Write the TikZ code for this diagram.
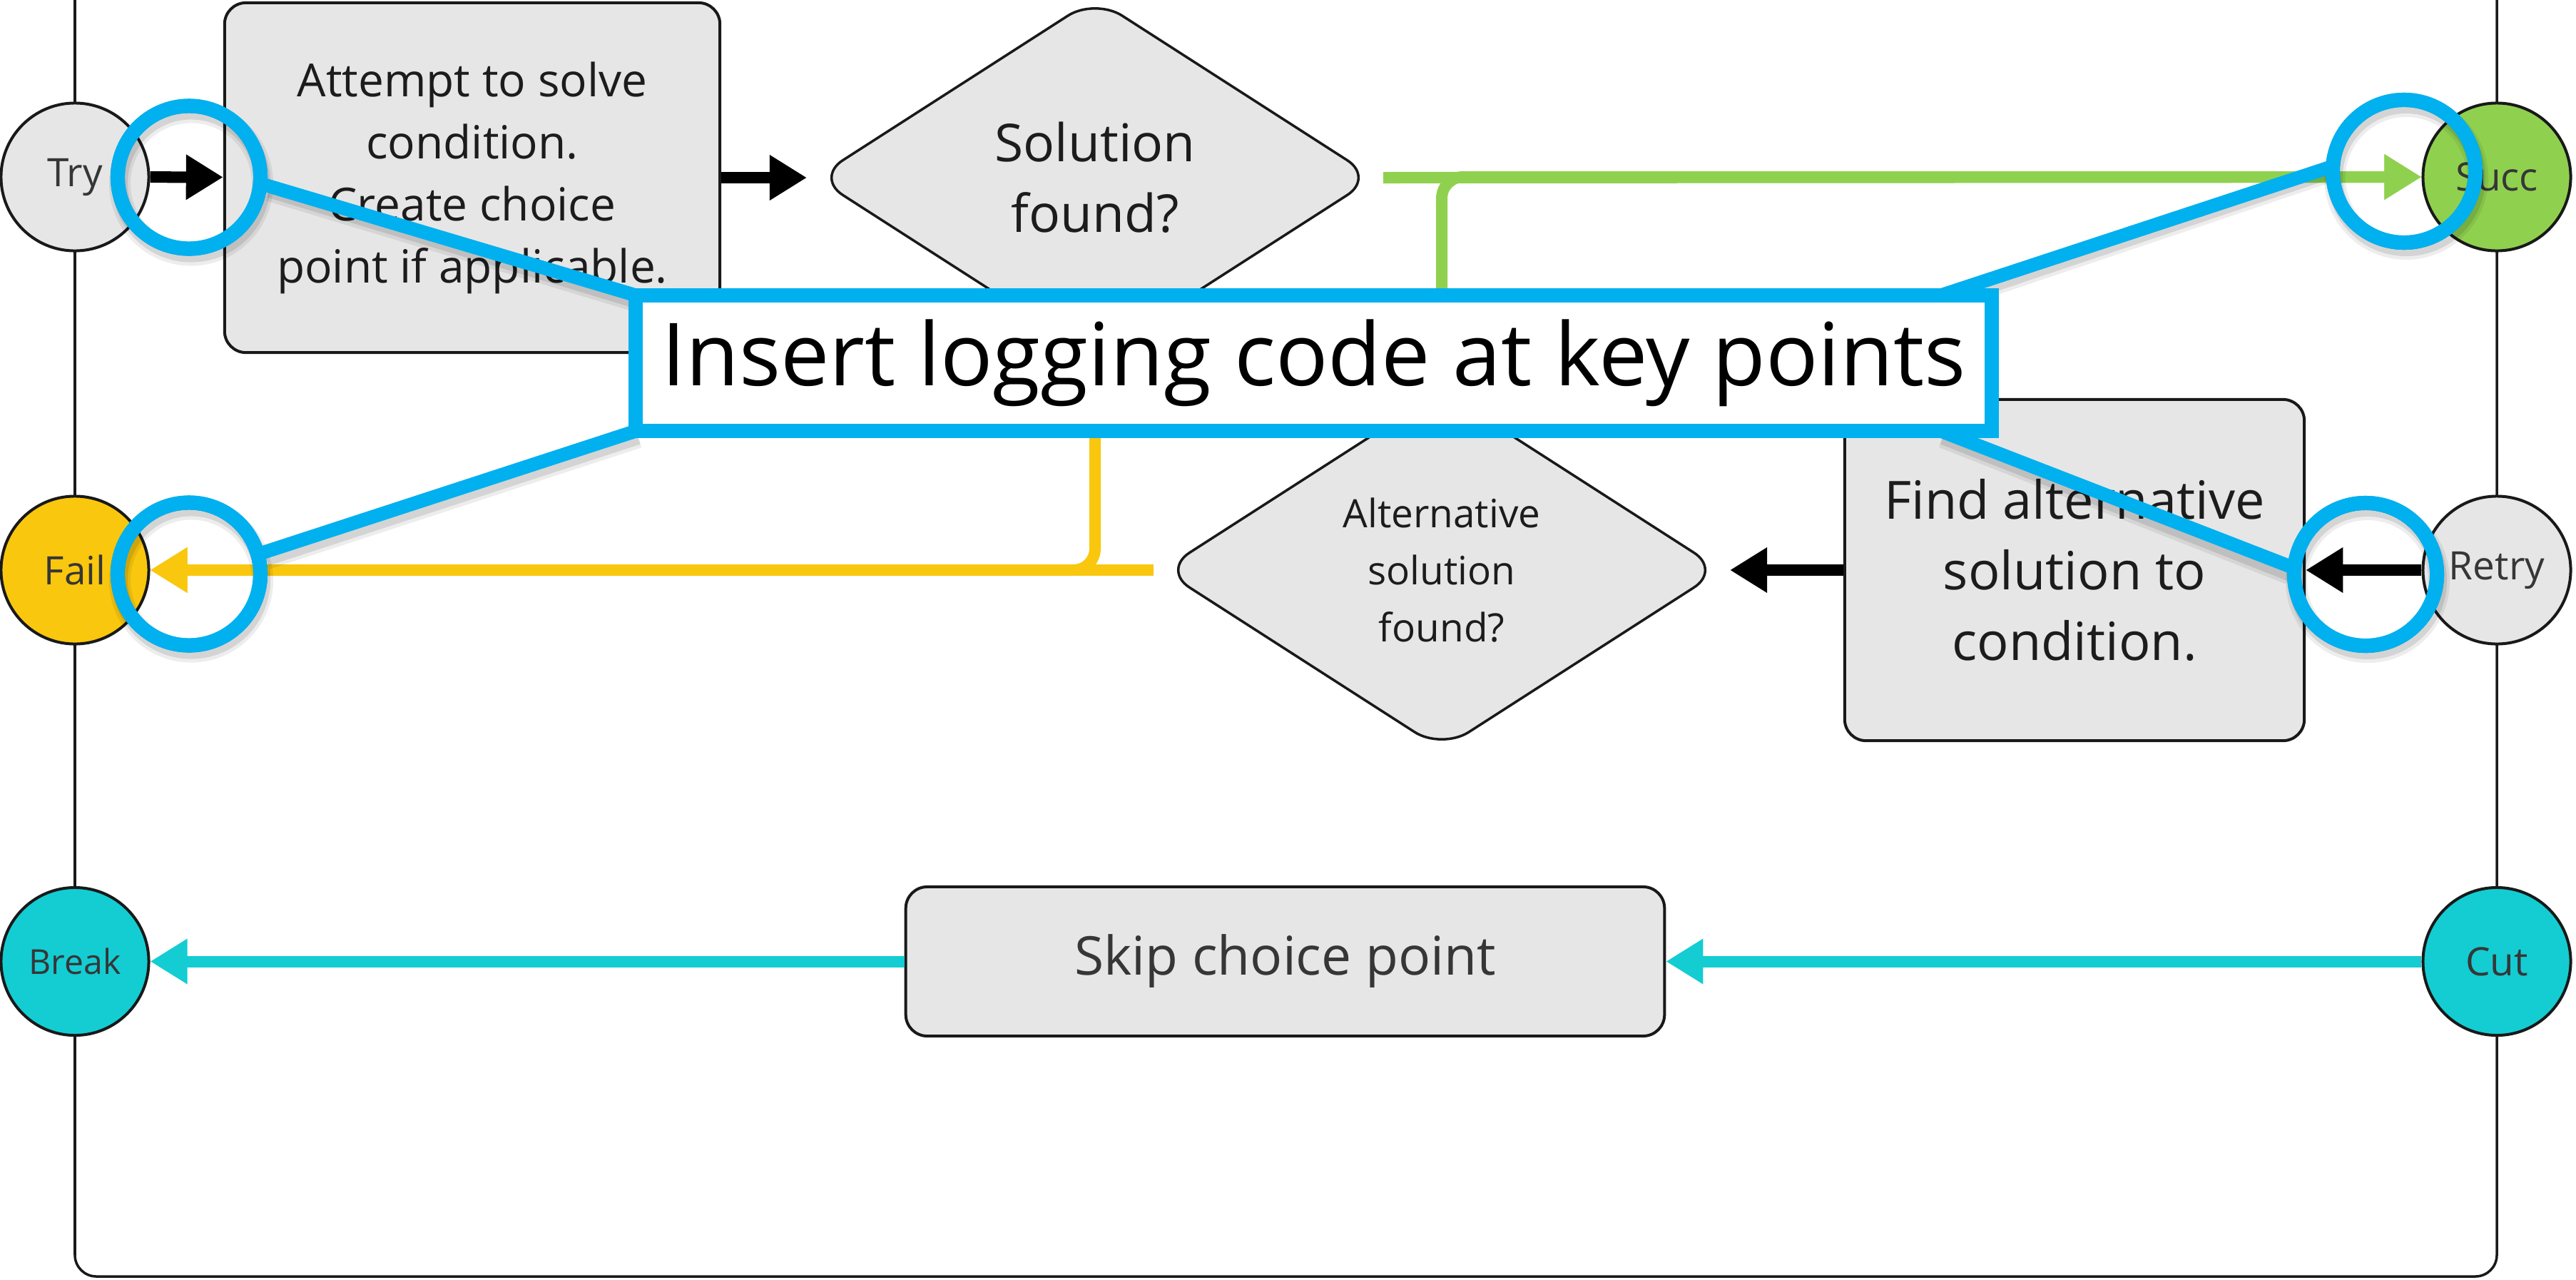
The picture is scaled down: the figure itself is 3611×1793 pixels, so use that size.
\documentclass[tikz,border=0pt]{standalone}
\usepackage{fontspec}
\setmainfont{Open Sans}
\usetikzlibrary{arrows.meta,shapes.geometric}
\pgfdeclarelayer{front}
\pgfsetlayers{main,front}
\definecolor{boxgray}{HTML}{E6E6E6}
\definecolor{sgreen}{HTML}{8FD14F}
\definecolor{syellow}{HTML}{F9C70E}
\definecolor{scyan}{HTML}{13CDD3}
\definecolor{cblue}{HTML}{00B0EF}
\definecolor{txtdark}{HTML}{1C1C1C}
\definecolor{txtgray}{HTML}{363636}
\newcommand\fsz[2]{\fontsize{#1}{#2}\selectfont}
\tikzset{
  frameline/.style={draw=black!90, line width=0.035cm, rounded corners=0.3cm},
  pbox/.style={rectangle, draw=black!90, line width=0.04cm, fill=boxgray, rounded corners=0.3cm, inner sep=0, align=center, text=txtdark},
  dbox/.style={diamond, draw=black!90, line width=0.035cm, fill=boxgray, rounded corners=0.45cm, inner sep=0, aspect=1.6, minimum width=7.84cm, minimum height=5.04cm, align=center, text=txtdark},
  port/.style={circle, draw=black!90, line width=0.04cm, minimum size=2.07cm, inner sep=0, text=txtgray, font=\fsz{15.6}{19}},
  flow/.style={line width=0.16cm, -{Triangle[length=0.52cm,width=0.6cm]}},
  ring/.style={circle, draw=cblue, line width=0.2cm, minimum size=2cm, inner sep=0},
  leader/.style={draw=cblue, line width=0.19cm},
  shade1/.style={draw=black, opacity=0.07, line width=0.30cm},
  shade2/.style={draw=black, opacity=0.10, line width=0.22cm},
  callout/.style={rectangle, draw=cblue, line width=0.2cm, fill=white, minimum width=18.99cm, minimum height=1.9cm, inner sep=0, outer sep=0, text=black, font=\fsz{34.7}{42}}
}
\begin{document}
\begin{tikzpicture}[x=0.01cm,y=-0.01cm]
\useasboundingbox (0,0) rectangle (3611,1793);
\fill[white] (0,0) rectangle (3611,1793);
% frame
\draw[frameline] (105,0) -- (105,1789) -- (3500,1789) -- (3500,0);
% process nodes
\node[pbox, minimum width=6.94cm, minimum height=4.9cm, font=\fsz{18.2}{24.75}] (b1) at (662,249) {Attempt to solve\\condition.\\Create choice\\point if applicable.};
\node[dbox, font=\fsz{20.8}{28.2}] (d1) at (1535,249) {Solution\\found?};
\node[dbox, font=\fsz{15.6}{22.8}] (d2) at (2021,799) {Alternative\\solution\\found?};
\node[pbox, minimum width=6.44cm, minimum height=4.78cm, font=\fsz{21}{28.2}] (b2) at (2908,799) {Find alternative\\solution to\\condition.};
\node[pbox, minimum width=10.63cm, minimum height=2.09cm, font=\fsz{21.3}{26}, text=txtgray] (b3) at (1801.5,1347.5) {Skip choice point};
% ports
\node[port, fill=boxgray] (try) at (105,248) {Try};
\node[port, fill=sgreen] (succ) at (3500,248) {Succ};
\node[port, fill=syellow] (fail) at (105,799) {Fail};
\node[port, fill=boxgray] (retry) at (3500,799) {Retry};
\node[port, fill=scyan, font=\fsz{13.7}{17}] (brk) at (105,1347.5) {Break};
\node[port, fill=scyan] (cut) at (3500,1347.5) {Cut};
% connectors
\draw[flow, color=black] (try) -- (b1);
\draw[flow, color=black] (b1) -- ([xshift=-0.1cm]d1.west);
\draw[flow, color=sgreen] ([xshift=0.1cm]d1.east) -- (succ);
\draw[flow, color=sgreen, rounded corners=0.3cm] (d2.north) |- (succ);
\draw[flow, color=syellow] ([xshift=-0.1cm]d2.west) -- (fail);
\draw[flow, color=syellow, rounded corners=0.3cm] (d1.south) |- (fail);
\draw[flow, color=black] (retry) -- (b2);
\draw[flow, color=black] (b2) -- ([xshift=0.1cm]d2.east);
\draw[flow, color=scyan] (cut) -- (b3);
\draw[flow, color=scyan] (b3) -- (brk);
% callout
\begin{pgfonlayer}{front}
\node[callout] (co) at (1841.5,509) {\raisebox{-0.09cm}{Insert logging code at key points}};
\end{pgfonlayer}
% rings
\node[ring] (r1) at (265,248.5) {};
\node[ring] (r2) at (3370,240) {};
\node[ring] (r3) at (265,804.5) {};
\node[ring] (r4) at (3316,805) {};
% shadows
\foreach \r in {r1,r2,r3,r4}{
  \draw[shade1] ([shift={(3,9)}]\r) circle[radius=1cm];
  \draw[shade2] ([shift={(3,8)}]\r) circle[radius=1cm];
}
\draw[shade1] ([shift={(3,9)}]r1.-5) -- ([shift={(3,9)}]co.north west);
\draw[shade2] ([shift={(3,8)}]r1.-5) -- ([shift={(3,8)}]co.north west);
\draw[shade1] ([shift={(3,9)}]r2.176) -- ([shift={(-68,9)}]co.north east);
\draw[shade2] ([shift={(3,8)}]r2.176) -- ([shift={(-68,8)}]co.north east);
\draw[shade1] ([shift={(3,9)}]r3.16) -- ([shift={(3,9)}]co.south west);
\draw[shade2] ([shift={(3,8)}]r3.16) -- ([shift={(3,8)}]co.south west);
\draw[shade1] ([shift={(3,9)}]r4.175) -- ([shift={(-68,9)}]co.south east);
\draw[shade2] ([shift={(3,8)}]r4.175) -- ([shift={(-68,8)}]co.south east);
% redraw rings on top of shadows
\foreach \r in {r1,r2,r3,r4}{
  \draw[draw=cblue, line width=0.2cm] (\r) circle[radius=1cm];
}
% leaders
\draw[leader] ([shift={(175:0.1cm)}]r1.-5) -- (co.north west);
\draw[leader] ([shift={(-4:0.1cm)}]r2.176) -- ([xshift=-0.71cm]co.north east);
\draw[leader] ([shift={(196:0.1cm)}]r3.16) -- (co.south west);
\draw[leader] ([shift={(-5:0.1cm)}]r4.175) -- ([xshift=-0.71cm]co.south east);
\end{tikzpicture}
\end{document}
